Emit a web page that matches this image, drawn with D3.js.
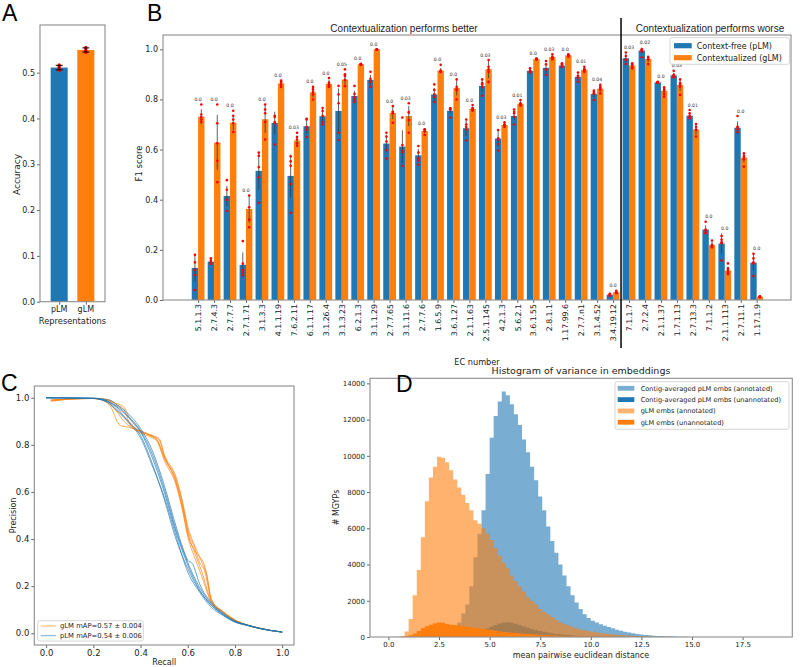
<!DOCTYPE html>
<html><head><meta charset="utf-8">
<script src="https://cdn.jsdelivr.net/npm/d3@7"></script>
<style>body{margin:0;background:#fff} text{font-family:"DejaVu Sans",sans-serif}</style>
</head><body>
<svg id="chart" width="800" height="667"></svg>
<script>
// ---------- Panel A data ----------
const repNames = ["pLM","gLM"];
const accMeans = [0.511, 0.5495];
const accErr = [0.005, 0.0045];
const accDots = [[0.517,0.513,0.511,0.508,0.505],[0.555,0.552,0.549,0.547,0.544]];

// ---------- Panel B data ----------
const ecNumbers = ["5.1.1.3","2.7.4.3","2.7.7.7","2.7.1.71","3.1.3.3","4.1.1.19","7.6.2.11","6.1.1.17","3.1.26.4","3.1.3.23","6.2.1.3","3.1.1.29","2.7.7.65","3.1.11.6","2.7.7.6","1.6.5.9","3.6.1.27","2.1.1.63","2.5.1.145","4.2.1.3","5.6.2.1","3.6.1.55","2.8.1.1","1.17.99.6","2.7.7.n1","3.1.4.52","3.4.19.12","7.1.1.7","2.7.2.4","2.1.1.37","1.7.1.13","2.7.13.3","7.1.1.2","2.1.1.113","2.7.11.1","1.17.1.9"];
const f1Free = [0.128,0.153,0.415,0.14,0.515,0.706,0.495,0.693,0.733,0.754,0.814,0.878,0.624,0.612,0.577,0.82,0.755,0.685,0.854,0.644,0.734,0.914,0.926,0.935,0.89,0.822,0.021,0.964,0.995,0.868,0.896,0.735,0.281,0.225,0.687,0.149];
const f1Ctx = [0.731,0.628,0.707,0.363,0.721,0.864,0.636,0.828,0.862,0.879,0.94,1.0,0.746,0.734,0.674,0.915,0.846,0.762,0.92,0.698,0.783,0.961,0.969,0.976,0.918,0.843,0.031,0.935,0.961,0.834,0.858,0.68,0.219,0.118,0.568,0.013];
const errFree = [0.055,0.01,0.04,0.05,0.075,0.045,0.085,0.03,0.03,0.09,0.02,0.02,0.035,0.065,0.025,0.025,0.01,0.03,0.025,0.03,0.015,0.008,0.02,0.008,0.013,0.013,0.004,0.017,0.012,0.002,0.01,0.012,0.017,0.04,0.025,0.03];
const errCtx = [0.03,0.11,0.03,0.055,0.055,0.01,0.02,0.02,0.015,0.02,0.003,0.001,0.025,0.04,0.01,0.01,0.03,0.01,0.035,0.007,0.01,0.002,0.007,0.004,0.008,0.012,0.005,0.01,0.012,0.015,0.025,0.02,0.012,0.015,0.02,0.002];
const dotsFree = [[0.18,0.15,0.12,0.10,0.04],[0.166,0.157,0.15,0.146,0.145],[0.478,0.44,0.40,0.40,0.355],[0.235,0.145,0.12,0.11,0.10],[0.588,0.575,0.53,0.49,0.388],[0.735,0.73,0.71,0.705,0.62],[0.573,0.553,0.535,0.462,0.348],[0.723,0.72,0.69,0.68,0.65],[0.766,0.754,0.735,0.71,0.70],[0.854,0.82,0.785,0.667,0.638],[0.854,0.822,0.81,0.80,0.79],[0.91,0.882,0.875,0.87,0.85],[0.667,0.652,0.632,0.598,0.564],[0.728,0.618,0.595,0.59,0.535],[0.614,0.588,0.565,0.556,0.54],[0.86,0.838,0.82,0.81,0.79],[0.765,0.765,0.76,0.76,0.728],[0.72,0.70,0.69,0.68,0.636],[0.88,0.865,0.86,0.85,0.815],[0.678,0.645,0.638,0.622,0.596],[0.76,0.751,0.745,0.731,0.70],[0.924,0.915,0.912,0.91,0.907],[0.953,0.94,0.918,0.898,0.92],[0.944,0.94,0.935,0.93,0.93],[0.907,0.894,0.89,0.885,0.871],[0.835,0.83,0.825,0.822,0.798],[0.025,0.023,0.02,0.02,0.016],[0.987,0.973,0.96,0.957,0.941],[1.0,0.998,0.995,0.991,0.968],[0.87,0.869,0.868,0.867,0.866],[0.914,0.898,0.895,0.89,0.888],[0.758,0.745,0.735,0.73,0.725],[0.312,0.28,0.279,0.27,0.266],[0.255,0.24,0.23,0.226,0.157],[0.734,0.691,0.69,0.681,0.67],[0.184,0.166,0.15,0.146,0.096]];
const dotsCtx = [[0.78,0.74,0.73,0.72,0.71],[0.78,0.705,0.625,0.555,0.47],[0.755,0.735,0.72,0.705,0.67],[0.417,0.37,0.32,0.32,0.29],[0.78,0.76,0.745,0.71,0.64],[0.875,0.87,0.87,0.86,0.85],[0.667,0.65,0.64,0.625,0.615],[0.85,0.84,0.83,0.82,0.80],[0.885,0.867,0.86,0.853,0.85],[0.92,0.90,0.893,0.878,0.853],[0.942,0.94,0.94,0.94,0.938],[1.0,1.0,1.0,0.999,0.998],[0.774,0.751,0.75,0.745,0.707],[0.785,0.75,0.747,0.718,0.667],[0.681,0.68,0.675,0.673,0.658],[0.938,0.915,0.912,0.91,0.91],[0.88,0.85,0.84,0.838,0.80],[0.778,0.765,0.765,0.76,0.755],[0.957,0.93,0.92,0.91,0.87],[0.709,0.70,0.698,0.695,0.69],[0.798,0.785,0.78,0.78,0.775],[0.963,0.962,0.961,0.96,0.959],[0.98,0.97,0.968,0.965,0.96],[0.98,0.978,0.977,0.976,0.97],[0.93,0.92,0.92,0.915,0.91],[0.858,0.85,0.845,0.838,0.824],[0.037,0.032,0.03,0.03,0.027],[0.944,0.94,0.935,0.93,0.924],[0.97,0.965,0.96,0.96,0.941],[0.848,0.84,0.835,0.822,0.811],[0.88,0.865,0.86,0.851,0.818],[0.702,0.69,0.68,0.678,0.652],[0.237,0.22,0.215,0.215,0.21],[0.146,0.126,0.12,0.11,0.104],[0.585,0.575,0.57,0.561,0.532],[0.015,0.014,0.013,0.012,0.011]];
const pValues = ["0.0","0.0","0.0","0.0","0.0","0.0","0.03","0.0","0.0","0.05","0.0","0.0","0.0","0.03","0.0","0.0","0.0","0.0","0.03","0.03","0.01","0.0","0.03","0.0","0.01","0.04","0.0","0.03","0.02","0.0","0.03","0.01","0.0","0.0","0.0","0.0"];
const nBetter = 27;
const seriesB = ["Context-free (pLM)","Contextualized (gLM)"];

// ---------- Panel C data (recall, precision) ----------
const prPLM = [
 [[0,1],[0.2,0.997],[0.25,0.99],[0.3,0.96],[0.35,0.915],[0.4,0.855],[0.45,0.745],[0.5,0.6],[0.55,0.43],[0.6,0.29],[0.65,0.185],[0.7,0.12],[0.75,0.08],[0.8,0.05],[0.85,0.035],[0.9,0.022],[0.95,0.012],[1,0.005]],
 [[0,1],[0.2,0.998],[0.26,0.985],[0.3,0.95],[0.35,0.9],[0.4,0.84],[0.45,0.72],[0.5,0.57],[0.55,0.4],[0.6,0.275],[0.65,0.18],[0.7,0.118],[0.75,0.078],[0.8,0.048],[0.85,0.034],[0.9,0.021],[0.95,0.012],[1,0.005]],
 [[0,1],[0.2,0.998],[0.27,0.99],[0.3,0.97],[0.35,0.93],[0.4,0.87],[0.45,0.775],[0.5,0.63],[0.55,0.455],[0.58,0.36],[0.6,0.31],[0.62,0.295],[0.65,0.21],[0.7,0.13],[0.75,0.085],[0.8,0.052],[0.85,0.036],[0.9,0.022],[0.95,0.012],[1,0.005]],
 [[0,1],[0.2,0.997],[0.26,0.98],[0.3,0.945],[0.35,0.895],[0.4,0.83],[0.45,0.71],[0.5,0.58],[0.55,0.415],[0.6,0.26],[0.65,0.175],[0.7,0.11],[0.75,0.075],[0.8,0.047],[0.85,0.033],[0.9,0.021],[0.95,0.011],[1,0.005]],
 [[0,1],[0.2,0.998],[0.28,0.975],[0.3,0.965],[0.35,0.92],[0.4,0.86],[0.45,0.76],[0.5,0.615],[0.55,0.44],[0.6,0.3],[0.65,0.195],[0.7,0.125],[0.75,0.082],[0.8,0.05],[0.85,0.035],[0.9,0.022],[0.95,0.012],[1,0.005]]
];
const prGLM = [
 [[0.02,0.99],[0.05,0.99],[0.1,0.995],[0.2,0.997],[0.25,0.985],[0.28,0.95],[0.3,0.9],[0.32,0.88],[0.35,0.875],[0.4,0.855],[0.45,0.835],[0.47,0.82],[0.5,0.75],[0.55,0.64],[0.58,0.53],[0.6,0.44],[0.63,0.36],[0.65,0.3],[0.67,0.27],[0.7,0.14],[0.75,0.09],[0.8,0.055],[0.85,0.035],[0.9,0.022],[0.95,0.012],[1,0.005]],
 [[0.02,0.985],[0.06,0.99],[0.1,0.995],[0.2,0.998],[0.27,0.99],[0.3,0.97],[0.33,0.95],[0.35,0.9],[0.38,0.87],[0.4,0.86],[0.45,0.84],[0.48,0.825],[0.5,0.76],[0.55,0.665],[0.58,0.55],[0.6,0.455],[0.63,0.37],[0.66,0.3],[0.68,0.25],[0.7,0.145],[0.75,0.092],[0.8,0.057],[0.85,0.036],[0.9,0.023],[0.95,0.012],[1,0.005]],
 [[0.03,0.99],[0.1,0.995],[0.2,0.997],[0.26,0.99],[0.3,0.96],[0.33,0.92],[0.36,0.88],[0.4,0.85],[0.45,0.83],[0.47,0.815],[0.5,0.735],[0.55,0.63],[0.58,0.51],[0.6,0.41],[0.63,0.32],[0.66,0.24],[0.7,0.13],[0.75,0.088],[0.8,0.053],[0.85,0.034],[0.9,0.021],[0.95,0.012],[1,0.005]],
 [[0.02,0.99],[0.1,0.995],[0.2,0.997],[0.27,0.985],[0.3,0.975],[0.33,0.96],[0.35,0.92],[0.38,0.88],[0.4,0.86],[0.45,0.838],[0.48,0.82],[0.5,0.755],[0.55,0.655],[0.58,0.54],[0.6,0.43],[0.63,0.34],[0.66,0.26],[0.7,0.135],[0.75,0.09],[0.8,0.055],[0.85,0.035],[0.9,0.022],[0.95,0.012],[1,0.005]],
 [[0.02,0.99],[0.1,0.994],[0.2,0.997],[0.26,0.98],[0.3,0.94],[0.33,0.9],[0.36,0.875],[0.4,0.857],[0.45,0.835],[0.47,0.823],[0.5,0.745],[0.55,0.645],[0.58,0.52],[0.6,0.42],[0.63,0.35],[0.67,0.29],[0.68,0.25],[0.7,0.14],[0.75,0.09],[0.8,0.055],[0.85,0.035],[0.9,0.022],[0.95,0.012],[1,0.005]]
];
const legendC = ["gLM mAP=0.57 \u00b1 0.004","pLM mAP=0.54 \u00b1 0.006"];

// ---------- Panel D data (histogram counts, bin width 0.2) ----------
const binWidth = 0.2;
const pAnnStart = 3.0;
const pAnnCounts = [50,200,800,1300,1800,2800,4400,5700,7000,9000,11000,12200,13000,13550,13350,12850,12300,11700,10900,10200,9400,8650,7750,7000,6100,5300,4650,4000,3400,2800,2300,1900,1550,1250,1050,900,800,700,620,550,480,400,340,290,250,210,170,140,110,90,70,60,50,40,30,25,20,15,10,5];
const pUnStart = 3.4;
const pUnCounts = [30,60,100,150,220,300,400,480,580,660,740,800,820,790,730,650,580,510,440,385,330,285,245,205,170,145,125,105,90,75,60,50,40,33,27,22,18,14,11,8,6];
const gAnnStart = 0.4;
const gAnnCounts = [20,60,300,1000,2300,3700,5500,7500,8800,9400,9950,9900,9650,9200,8700,8250,7850,7400,7000,6450,6250,6000,5700,5350,4900,4500,4100,3800,3400,3100,2800,2500,2200,2000,1800,1550,1380,1250,1100,950,820,720,630,550,480,420,370,330,290,255,225,195,170,145,125,108,92,78,65,52,42,34,27,21,17,14,11,8];
const gUnStart = 0.6;
const gUnCounts = [10,40,100,200,330,480,600,680,760,800,780,720,680,660,640,610,570,540,510,480,450,410,380,340,310,285,265,245,220,200,185,170,155,140,128,110,95,85,78,70,62,55,48,42,36,30,26,22,18,14,11,8,6];
const legendD = ["Contig-averaged pLM embs (annotated)","Contig-averaged pLM embs (unannotated)","gLM embs (annotated)","gLM embs (unannotated)"];

// ---------- drawing ----------
const BLUE = "#1f77b4", ORANGE = "#ff7f0e";
const svg = d3.select("#chart");

function frame(x0,y0,x1,y1){
  svg.append("rect").attr("x",x0).attr("y",y0).attr("width",x1-x0).attr("height",y1-y0)
    .attr("fill","none").attr("stroke","#8c8c8c").attr("stroke-width",1.1);
}
function styleAxis(g, fs){
  g.select(".domain").remove();
  g.selectAll(".tick line").attr("stroke","#666");
  g.selectAll(".tick text").attr("fill","#222").style("font-size",fs+"px").style("font-family","DejaVu Sans");
}
function letter(t,x,y){
  svg.append("text").attr("x",x).attr("y",y).text(t)
    .style("font-family","Liberation Sans").style("font-size","23px").attr("fill","#000");
}
function label(t,x,y,fs,rot,family){
  const e = svg.append("text").attr("text-anchor","middle").text(t)
    .style("font-size",fs+"px").attr("fill","#222");
  if(family) e.style("font-family",family);
  if(rot) e.attr("transform",`translate(${x},${y}) rotate(-90)`);
  else e.attr("x",x).attr("y",y);
  return e;
}

// Panel A
{
  const xA = d3.scaleLinear().domain([-0.72,1.72]).range([40,105]);
  const yA = d3.scaleLinear().domain([0,0.604]).range([301.7,25]);
  const cols = [BLUE, ORANGE];
  repNames.forEach((n,i)=>{
    svg.append("rect").attr("x",xA(i-0.32)).attr("width",xA(i+0.32)-xA(i-0.32))
      .attr("y",yA(accMeans[i])).attr("height",yA(0)-yA(accMeans[i])).attr("fill",cols[i]);
  });
  repNames.forEach((n,i)=>{
    accDots[i].forEach(d=>svg.append("circle").attr("cx",xA(i)).attr("cy",yA(d)).attr("r",1.6).attr("fill","red"));
    const cx = xA(i), lo = yA(accMeans[i]-accErr[i]), hi = yA(accMeans[i]+accErr[i]);
    svg.append("line").attr("x1",cx).attr("x2",cx).attr("y1",lo).attr("y2",hi).attr("stroke","#000").attr("stroke-width",1);
    [lo,hi].forEach(y=>svg.append("line").attr("x1",cx-3.5).attr("x2",cx+3.5).attr("y1",y).attr("y2",y).attr("stroke","#000").attr("stroke-width",1));
    svg.append("text").attr("x",cx).attr("y",312).attr("text-anchor","middle").text(n).style("font-size","8px").attr("fill","#222");
  });
  const ay = svg.append("g").attr("transform","translate(40,0)")
    .call(d3.axisLeft(yA).tickValues([0,0.1,0.2,0.3,0.4,0.5]).tickFormat(d3.format(".1f")).tickSize(3).tickPadding(2));
  styleAxis(ay,8);
  const ax = svg.append("g").attr("transform","translate(0,301.7)")
    .call(d3.axisBottom(xA).tickValues([0,1]).tickFormat("").tickSize(3));
  styleAxis(ax,8);
  frame(40,25,105,301.7);
  label("Representations",72.5,323.5,8.3);
  label("Accuracy",20,174.5,9,true);
  letter("A",2,21);
}

// Panel B
{
  const xB = d3.scaleLinear().domain([-2.2,37.15]).range([163,791]);
  const yB = d3.scaleLinear().domain([0,1.057]).range([300,35]);
  const bw = 0.4;
  ecNumbers.forEach((ec,i)=>{
    svg.append("rect").attr("x",xB(i-bw)).attr("width",xB(i)-xB(i-bw))
      .attr("y",yB(f1Free[i])).attr("height",yB(0)-yB(f1Free[i])).attr("fill",BLUE);
    svg.append("rect").attr("x",xB(i)).attr("width",xB(i+bw)-xB(i))
      .attr("y",yB(f1Ctx[i])).attr("height",yB(0)-yB(f1Ctx[i])).attr("fill",ORANGE);
  });
  ecNumbers.forEach((ec,i)=>{
    [[f1Free,errFree,dotsFree,-bw/2],[f1Ctx,errCtx,dotsCtx,bw/2]].forEach(([m,e,dts,off])=>{
      const cx = xB(i+off);
      svg.append("line").attr("x1",cx).attr("x2",cx).attr("y1",yB(Math.max(0,m[i]-e[i]))).attr("y2",yB(m[i]+e[i]))
        .attr("stroke","#3a3a3a").attr("stroke-width",0.8);
      dts[i].forEach(d=>svg.append("circle").attr("cx",cx).attr("cy",yB(d)).attr("r",1.3).attr("fill","#f00"));
    });
    const top = Math.max(...dotsFree[i],...dotsCtx[i],f1Free[i]+errFree[i],f1Ctx[i]+errCtx[i]);
    svg.append("text").attr("x",xB(i)).attr("y",yB(top+0.02)).attr("dy","0.35em").attr("text-anchor","middle")
      .text(pValues[i]).style("font-size","4.6px").attr("fill","#333");
  });
  const ay = svg.append("g").attr("transform","translate(163,0)")
    .call(d3.axisLeft(yB).tickValues([0,0.2,0.4,0.6,0.8,1.0]).tickFormat(d3.format(".1f")).tickSize(3).tickPadding(2));
  styleAxis(ay,8);
  const ax = svg.append("g").attr("transform","translate(0,300)")
    .call(d3.axisBottom(xB).tickValues(d3.range(ecNumbers.length)).tickFormat((d)=>ecNumbers[d]).tickSize(3));
  styleAxis(ax,7.8);
  ax.selectAll(".tick text").attr("transform","rotate(-90)").attr("text-anchor","end")
    .attr("x",-4).attr("y",0).attr("dy","0.35em");
  frame(163,35,791,300);
  const xs = xB(nBetter-0.5);
  svg.append("line").attr("x1",xs).attr("x2",xs).attr("y1",18).attr("y2",348).attr("stroke","#000").attr("stroke-width",1.5);
  label("Contextualization performs better",404,31.5,10,false,"Liberation Sans");
  label("Contextualization performs worse",710,31.5,10,false,"Liberation Sans");
  label("EC number",477,365,8.2);
  label("F1 score",141.5,163.5,8.5,true);
  // legend
  svg.append("rect").attr("x",670).attr("y",37.7).attr("width",119.5).attr("height",26.6).attr("rx",2)
    .attr("fill","#fff").attr("fill-opacity",0.85).attr("stroke","#ccc").attr("stroke-width",0.8);
  [BLUE,ORANGE].forEach((c,k)=>{
    const cy = 45.7 + k*12;
    svg.append("rect").attr("x",674).attr("y",cy-2.6).attr("width",17.7).attr("height",5.2).attr("fill",c);
    svg.append("text").attr("x",696.7).attr("y",cy).attr("dy","0.35em").text(seriesB[k]).style("font-size","8px").attr("fill","#222");
  });
  letter("B",147,21);
}

// Panel C
{
  const xC = d3.scaleLinear().domain([-0.05,1.05]).range([34.3,294]);
  const yC = d3.scaleLinear().domain([-0.05,1.05]).range([645,386]);
  const line = d3.line().x(d=>xC(d[0])).y(d=>yC(d[1])).curve(d3.curveMonotoneX);
  prGLM.forEach(c=>svg.append("path").attr("d",line(c)).attr("fill","none").attr("stroke",ORANGE).attr("stroke-width",0.9).attr("stroke-opacity",0.75));
  prPLM.forEach(c=>svg.append("path").attr("d",line(c)).attr("fill","none").attr("stroke",BLUE).attr("stroke-width",0.9).attr("stroke-opacity",0.75));
  const t = [0,0.2,0.4,0.6,0.8,1.0];
  const ay = svg.append("g").attr("transform","translate(34.3,0)")
    .call(d3.axisLeft(yC).tickValues(t).tickFormat(d3.format(".1f")).tickSize(3).tickPadding(2));
  styleAxis(ay,8.5);
  const ax = svg.append("g").attr("transform","translate(0,645)")
    .call(d3.axisBottom(xC).tickValues(t).tickFormat(d3.format(".1f")).tickSize(3).tickPadding(2));
  styleAxis(ax,8.5);
  frame(34.3,386,294,645);
  label("Recall",164.2,665,8);
  label("Precision",15.5,515.5,8,true);
  svg.append("rect").attr("x",37.7).attr("y",620.7).attr("width",105.6).attr("height",20.3).attr("rx",2)
    .attr("fill","#fff").attr("fill-opacity",0.85).attr("stroke","#ccc").attr("stroke-width",0.8);
  [ORANGE,BLUE].forEach((c,k)=>{
    const cy = 626 + k*9.7;
    svg.append("line").attr("x1",40.7).attr("x2",56).attr("y1",cy).attr("y2",cy).attr("stroke",c).attr("stroke-opacity",0.6).attr("stroke-width",1);
    svg.append("text").attr("x",60).attr("y",cy).attr("dy","0.35em").text(legendC[k]).style("font-size","6.8px").attr("fill","#222");
  });
  letter("C",1,391);
}

// Panel D
{
  const xD = d3.scaleLinear().domain([-0.909,19.955]).range([370,792.3]);
  const yD = d3.scaleLinear().domain([0,14280]).range([637,378.3]);
  const series = [
    [pAnnStart,pAnnCounts,BLUE,0.6],
    [pUnStart,pUnCounts,BLUE,1],
    [gAnnStart,gAnnCounts,ORANGE,0.6],
    [gUnStart,gUnCounts,ORANGE,1]
  ];
  series.forEach(([s,counts,c,a])=>{
    let d = `M${xD(s)},${yD(0)}`;
    counts.forEach((v,j)=>{ d += `V${yD(v)}H${xD(s+(j+1)*binWidth)}`; });
    d += `V${yD(0)}Z`;
    svg.append("path").attr("d",d).attr("fill",c).attr("fill-opacity",a).attr("stroke","none");
  });
  const ax = svg.append("g").attr("transform","translate(0,637)")
    .call(d3.axisBottom(xD).tickValues([0,2.5,5,7.5,10,12.5,15,17.5]).tickFormat(d3.format(".1f")).tickSize(3).tickPadding(2));
  styleAxis(ax,7);
  const ay = svg.append("g").attr("transform","translate(370,0)")
    .call(d3.axisLeft(yD).tickValues(d3.range(0,14001,2000)).tickFormat(d3.format("d")).tickSize(3).tickPadding(2));
  styleAxis(ay,7);
  frame(370,378.3,792.3,637);
  label("Histogram of variance in embeddings",581,374,9.5);
  label("mean pairwise euclidean distance",581,658,8);
  label("# MGYPs",339,507.5,8,true);
  svg.append("rect").attr("x",615).attr("y",381.7).attr("width",174).attr("height",47.6).attr("rx",2)
    .attr("fill","#fff").attr("fill-opacity",0.85).attr("stroke","#ccc").attr("stroke-width",0.8);
  const lc = [[BLUE,0.6],[BLUE,1],[ORANGE,0.6],[ORANGE,1]];
  lc.forEach(([c,a],k)=>{
    const cy = 388.3 + k*11.3;
    svg.append("rect").attr("x",617.7).attr("y",cy-2.4).attr("width",16.6).attr("height",4.8).attr("fill",c).attr("fill-opacity",a);
    svg.append("text").attr("x",640.7).attr("y",cy).attr("dy","0.35em").text(legendD[k]).style("font-size","6.6px").attr("fill","#222");
  });
  letter("D",396,392);
}
</script>
</body></html>
